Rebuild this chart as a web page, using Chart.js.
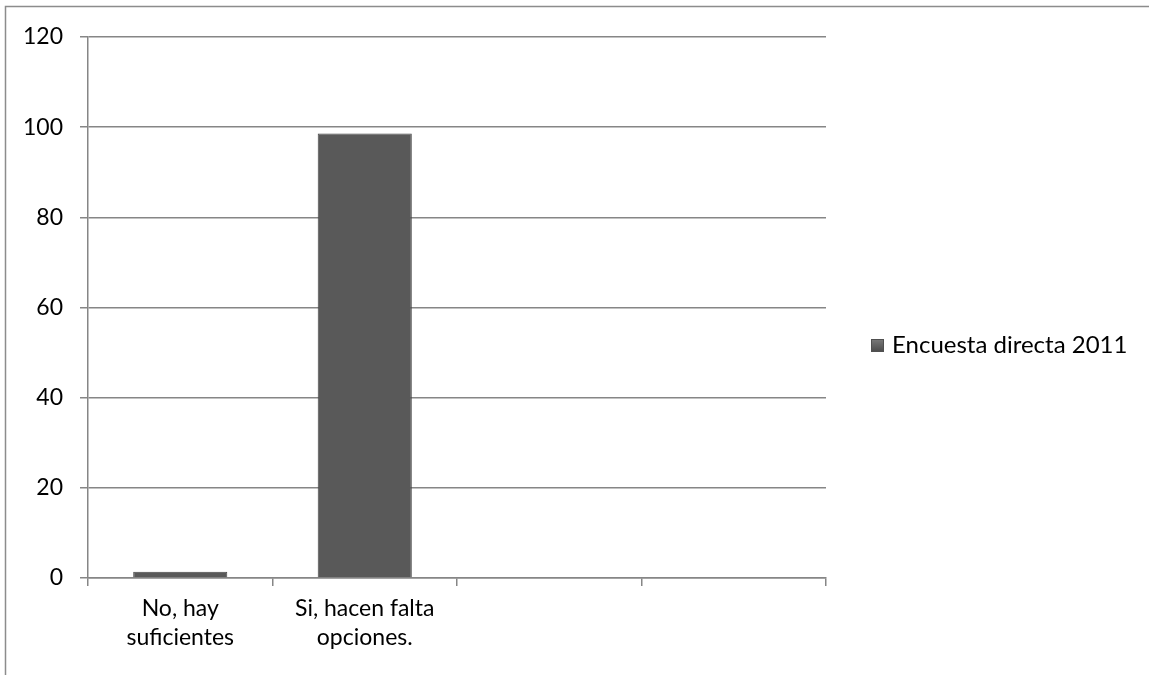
<!DOCTYPE html>
<html>
<head>
<meta charset="utf-8">
<script src="https://cdn.jsdelivr.net/npm/chart.js@4.4.1/dist/chart.umd.min.js"></script>
<style>
  html, body { margin: 0; padding: 0; background: #ffffff; }
  #wrap { width: 1149px; height: 675px; position: relative; }
</style>
</head>
<body>
<div id="wrap"><canvas id="c" width="1149" height="675"></canvas></div>
<script>
const categories = [["No, hay", "suficientes"], ["Si, hacen falta", "opciones."], "", ""];
const seriesLabel = "Encuesta directa 2011";
const seriesValues = [1.4, 98.6, null, null];
const yTicks = [0, 20, 40, 60, 80, 100, 120];

const FONT = "Lato, 'Open Sans', sans-serif";
const GRID = "#868686";

function barGradient(ctx) {
  const chart = ctx.chart;
  const el = ctx.element;
  if (!el || !chart.chartArea || el.x === undefined || !isFinite(el.x)) return "#595959";
  const w = el.width || 94;
  const g = chart.ctx.createLinearGradient(el.x - w / 2, 0, el.x + w / 2, 0);
  g.addColorStop(0, "#808080");
  g.addColorStop(0.07, "#606060");
  g.addColorStop(0.5, "#565656");
  g.addColorStop(0.93, "#606060");
  g.addColorStop(1, "#808080");
  return g;
}

const framePlugin = {
  id: "frame",
  beforeDraw(chart) {
    const c = chart.ctx;
    c.save();
    c.strokeStyle = "#8c8c8c";
    c.lineWidth = 1.5;
    c.beginPath();
    c.moveTo(5.5, 675);
    c.lineTo(5.5, 6.5);
    c.lineTo(1149, 6.5);
    c.stroke();
    c.restore();
  },
  afterDraw(chart) {
    const c = chart.ctx;
    const ds = chart.data.datasets[0];
    c.save();
    const sx = 871, sy = 339, s = 13;
    const g = c.createLinearGradient(0, sy, 0, sy + s);
    g.addColorStop(0, "#7a7a7a");
    g.addColorStop(1, "#4a4a4a");
    c.fillStyle = g;
    c.fillRect(sx, sy, s, s);
    c.strokeStyle = "#505050";
    c.lineWidth = 1;
    c.strokeRect(sx + 0.5, sy + 0.5, s - 1, s - 1);
    c.fillStyle = "#000000";
    c.font = "24px " + FONT;
    c.textBaseline = "middle";
    c.textAlign = "left";
    c.fillText(ds.label, 892, 345);
    c.restore();
  }
};

new Chart(document.getElementById("c"), {
  type: "bar",
  data: {
    labels: categories,
    datasets: [{
      label: seriesLabel,
      data: seriesValues,
      backgroundColor: barGradient,
      borderColor: "#454545",
      borderWidth: 1,
      barPercentage: 0.51,
      categoryPercentage: 1.0
    }]
  },
  options: {
    responsive: false,
    animation: false,
    layout: { padding: { left: 0, right: 323, top: 37, bottom: 0 } },
    plugins: {
      legend: { display: false },
      tooltip: { enabled: false }
    },
    scales: {
      x: {
        offset: true,
        grid: {
          offset: true,
          drawOnChartArea: false,
          drawTicks: true,
          tickLength: 8,
          color: GRID,
          lineWidth: 1.5
        },
        border: { display: true, color: GRID, width: 1.5 },
        ticks: {
          color: "#000000",
          font: { family: FONT, size: 23, lineHeight: 1.22 },
          padding: 9,
          maxRotation: 0,
          autoSkip: false
        },
        afterFit(scale) { scale.height = 97; }
      },
      y: {
        min: 0,
        max: 120,
        afterBuildTicks(scale) { scale.ticks = yTicks.map(v => ({ value: v })); },
        grid: {
          color: GRID,
          lineWidth: 1.5,
          drawTicks: true,
          tickLength: 8
        },
        border: { display: true, color: GRID, width: 1.5 },
        ticks: {
          color: "#000000",
          font: { family: FONT, size: 23 },
          padding: 17
        },
        afterFit(scale) { scale.width = 88; }
      }
    }
  },
  plugins: [framePlugin]
});
</script>
</body>
</html>
